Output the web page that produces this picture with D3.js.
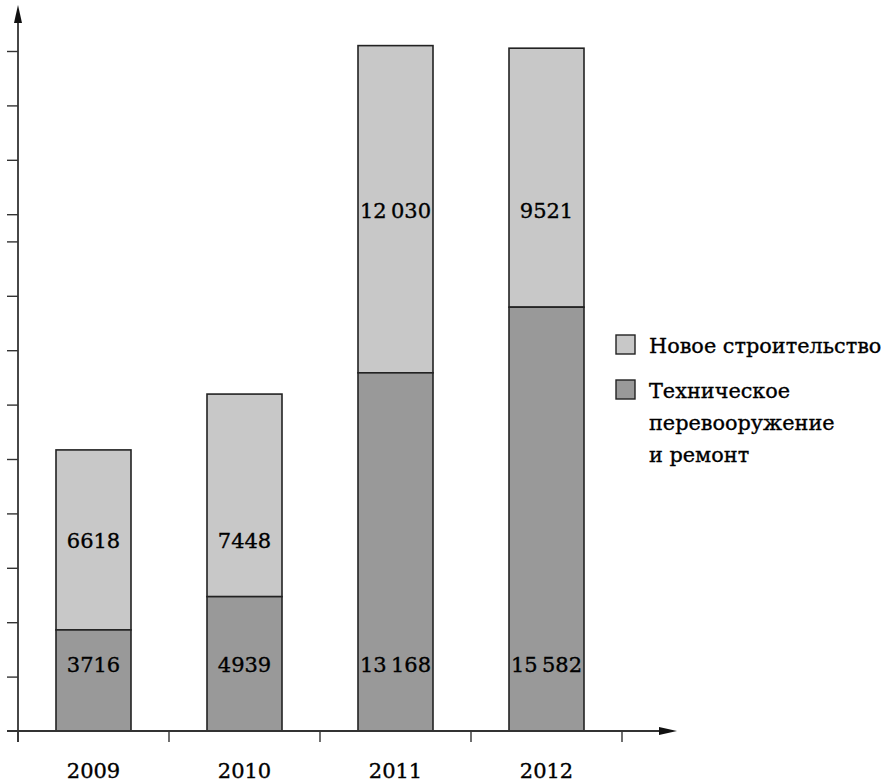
<!DOCTYPE html>
<html><head><meta charset="utf-8">
<script src="https://cdn.jsdelivr.net/npm/d3@7"></script>
<style>body{margin:0;background:#fff}svg{display:block}text{font-family:"DejaVu Serif",serif;fill:#000;stroke:#000;stroke-width:0.35px}</style>
</head><body><svg id="c" width="889" height="783"></svg>
<script>
const years = ["2009", "2010", "2011", "2012"];
const repair = [3716, 4939, 13168, 15582];
const newBuild = [6618, 7448, 12030, 9521];
const repairLabels = ["3716", "4939", "13 168", "15 582"];
const newLabels = ["6618", "7448", "12 030", "9521"];
const yTicks = [2000, 4000, 6000, 8000, 10000, 12000, 14000, 16000, 18000, 19000, 21000, 23000, 25000];
const legendNames = [["Новое строительство"], ["Техническое", "перевооружение", "и ремонт"]];

const svg = d3.select("#c");
const x0 = 18, y0 = 731;
const x = d3.scaleBand().domain(years).range([x0, x0 + 151 * 4]).paddingInner(0).paddingOuter(0);
const y = d3.scaleLinear().domain([0, 25000]).range([y0, y0 - 680]);
const bw = 75;
const cLight = "#c8c8c8", cDark = "#999999", stroke = "#222";
const thin = s => s.replace(" ", "\u2009");

// bars
const g = svg.append("g");
years.forEach((yr, i) => {
  const cx = x(yr) + x.bandwidth() / 2;
  g.append("rect").attr("x", cx - bw / 2).attr("width", bw)
    .attr("y", y(repair[i] + newBuild[i])).attr("height", y(repair[i]) - y(repair[i] + newBuild[i]))
    .attr("fill", cLight).attr("stroke", stroke).attr("stroke-width", 1.6);
  g.append("rect").attr("x", cx - bw / 2).attr("width", bw)
    .attr("y", y(repair[i])).attr("height", y0 - y(repair[i]))
    .attr("fill", cDark).attr("stroke", stroke).attr("stroke-width", 1.6);
});

// value labels
const topLevel = i => i < 2 ? y(repair[0] + newBuild[0] / 2) : y(repair[2] + newBuild[2] / 2);
years.forEach((yr, i) => {
  const cx = x(yr) + x.bandwidth() / 2;
  g.append("text").attr("x", cx).attr("y", y(2450)).attr("dy", "0.36em")
    .attr("text-anchor", "middle").attr("font-size", 21).text(thin(repairLabels[i]));
  g.append("text").attr("x", cx).attr("y", topLevel(i) + 1).attr("dy", "0.36em")
    .attr("text-anchor", "middle").attr("font-size", 21).text(thin(newLabels[i]));
});

// y axis
const ya = svg.append("g").attr("transform", `translate(${x0},0)`)
  .call(d3.axisLeft(y).tickValues(yTicks).tickSize(11).tickFormat(""));
ya.select(".domain").remove();
ya.selectAll("line").attr("stroke", "#333").attr("stroke-width", 1.4);
svg.append("line").attr("x1", x0).attr("x2", x0).attr("y1", y0 + 11).attr("y2", 18)
  .attr("stroke", "#333").attr("stroke-width", 1.8);
svg.append("path").attr("d", `M${x0},5 L${x0 - 4},23 L${x0 + 4},23 Z`).attr("fill", "#111");

// x axis
const xTickPos = d3.range(5).map(k => x0 + 151 * k);
const xa = svg.append("g");
xTickPos.forEach(p => xa.append("line").attr("x1", p).attr("x2", p).attr("y1", y0).attr("y2", y0 + 11)
  .attr("stroke", "#333").attr("stroke-width", 1.4));
svg.append("line").attr("x1", 7).attr("x2", 664).attr("y1", y0).attr("y2", y0)
  .attr("stroke", "#333").attr("stroke-width", 1.8);
svg.append("path").attr("d", `M677,${y0} L659,${y0 - 4} L659,${y0 + 4} Z`).attr("fill", "#111");
const xl = svg.append("g").attr("transform", `translate(0,${y0})`)
  .call(d3.axisBottom(x).tickSize(0).tickPadding(0));
xl.select(".domain").remove();
xl.selectAll("text").attr("y", 47).attr("dy", 0).attr("font-size", 21)
  .style("font-family", '"DejaVu Serif",serif').attr("fill", "#000");

// legend
const lg = svg.append("g");
const lcol = [cLight, cDark];
const ltop = [335, 380];
legendNames.forEach((lines, i) => {
  lg.append("rect").attr("x", 616).attr("y", ltop[i]).attr("width", 19).attr("height", 19)
    .attr("fill", lcol[i]).attr("stroke", stroke).attr("stroke-width", 1.4);
  lines.forEach((t, j) => lg.append("text").attr("x", 649).attr("y", ltop[i] + 18 + j * 32)
    .attr("font-size", 20.8).text(t));
});
</script></body></html>
